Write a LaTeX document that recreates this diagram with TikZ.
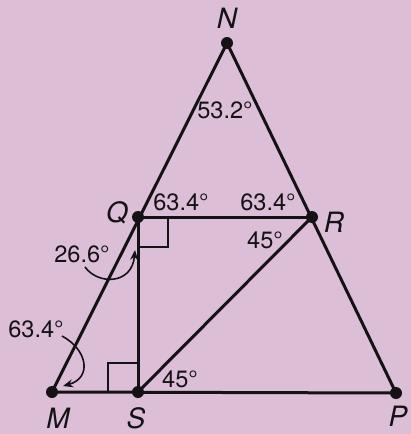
\documentclass[tikz,border=0pt]{standalone}
\usepackage{fontspec}
\setmainfont{TeX Gyre Heros}
\usepackage{xcolor}
\usetikzlibrary{arrows.meta, positioning}
\definecolor{clrPaper}{RGB}{220,190,214}
\definecolor{clrInk}{RGB}{20,18,20}

\begin{document}
\begin{tikzpicture}[x=0.5pt, y=-0.5pt,
    pt/.style={circle, fill=clrInk, inner sep=0pt, minimum size=6pt},
    side/.style={line width=1.5pt, draw=clrInk},
    rightmark/.style={line width=0.8pt, draw=clrInk},
    vname/.style={font=\fontsize{14}{16}\selectfont\itshape, text=clrInk, inner sep=1pt},
    ang/.style={font=\fontsize{11.8}{14}\selectfont, text=clrInk, inner sep=1pt},
    curvearrow/.style={-{Stealth[length=5pt, width=4pt]}, line width=0.8pt, draw=clrInk},
]
\fill[clrPaper] (0,0) rectangle (411,434);
\useasboundingbox (0,0) rectangle (411,434);

% vertices
\node[pt] (N) at (227,43) {};
\node[pt] (Q) at (138,217) {};
\node[pt] (R) at (312,217) {};
\node[pt] (M) at (52,392) {};
\node[pt] (S) at (138,392) {};
\node[pt] (P) at (396,393) {};

% right angle marks
\draw[rightmark] (138,247) -- (168,247) -- (168,217);
\draw[rightmark] (108,392) -- (108,363) -- (138,363);

% sides
\draw[side] (M.center) -- (N.center) -- (P.center) -- cycle;
\draw[side] (Q.center) -- (R.center);
\draw[side] (Q.center) -- (S.center);
\draw[side] (S.center) -- (R.center);

% vertex names
\node[vname] (nN) at (227,18) {N};
\node[vname] (nQ) at (117,213) {Q};
\node[vname] (nR) at (334,222) {R};
\node[vname] (nM) at (58,418) {M};
\node[vname] (nS) at (136,418) {S};
\node[vname] (nP) at (398,416) {P};

% angle measures
\node[ang] (aN) at (225,110) {53.2°};
\node[ang] (aQ) at (181,202) {63.4°};
\node[ang] (aRl) at (268,202) {63.4°};
\node[ang] (aRd) at (265,240) {45°};
\node[ang] (aS) at (180,379) {45°};
\node[ang] (aQS) at (82,254) {26.6°};
\node[ang] (aM) at (36,329) {63.4°};

% pointers
\coordinate (tQS) at (135,250);
\coordinate (tM) at (63,386);
\draw[curvearrow] (85,267) .. controls (98,285) and (132,285) .. (tQS);
\draw[curvearrow] (62,336) .. controls (88,350) and (92,378) .. (tM);

\end{tikzpicture}
\end{document}
